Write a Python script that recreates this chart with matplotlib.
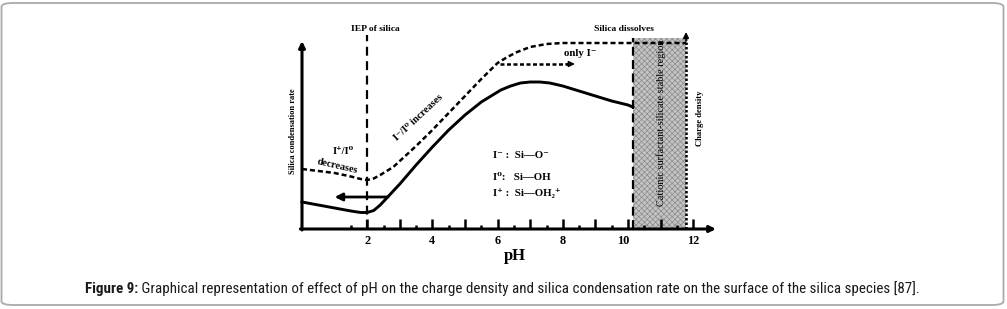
import matplotlib
matplotlib.use("Agg")
import matplotlib.pyplot as plt
from matplotlib import font_manager
from matplotlib.patches import FancyBboxPatch

# ---------------- data ----------------
ph_solid = [0, 0.5, 1, 1.5, 1.8, 2.0, 2.2, 2.4, 2.6, 2.8, 3, 3.5, 4, 4.5, 5, 5.5, 5.8, 6.1,
            6.4, 6.7, 7, 7.3, 7.6, 8, 8.5, 9, 9.5, 10, 10.15]
rate_solid = [27, 24, 21, 18, 16.5, 16.5, 18.5, 24, 31, 38, 45, 64, 82, 99, 114, 127, 133, 139,
              143, 146, 147, 147, 146, 143, 138, 133, 128, 124, 122]

ph_dashed = [0, 0.5, 1, 1.5, 1.8, 2.0, 2.2, 2.4, 2.6, 2.8, 3.2, 3.5, 4, 4.5, 5, 5.5, 6, 6.3,
             6.6, 7, 7.5, 8, 9, 10, 11, 11.78]
rate_dashed = [60, 58, 56, 52.5, 50, 49, 50.5, 54, 58, 62, 74, 83, 99, 116, 133, 150, 166, 172,
               177, 182, 185, 186, 186, 186, 186, 186]

tick_major = [2, 3, 4, 5, 6, 7, 8, 9, 10, 11, 12]
tick_minor = [1.5, 2.5, 3.5, 4.5, 5.5, 6.5, 7.5, 8.5, 9.5, 10.5, 11.5]
tick_label_pos = [2, 4, 6, 8, 10, 12]
tick_labels = ["2", "4", "6", "8", "10", "12"]

iep_ph = 2
region_ph = [10.15, 11.78]

# ---------------- figure ----------------
W, H = 1007, 309
fig = plt.figure(figsize=(W / 100, H / 100), dpi=100)
fig.patch.set_facecolor("white")
plt.rcParams["hatch.linewidth"] = 0.5

names = {f.name for f in font_manager.fontManager.ttflist}
serif = ["Liberation Serif", "DejaVu Serif"]
cap_font = "Liberation Sans"
for cand in ["Liberation Sans Narrow", "Arial Narrow", "Roboto Condensed", "Open Sans Condensed"]:
    if cand in names:
        cap_font = cand
        break

ax = fig.add_axes([302 / W, 80 / H, 13 * 32.6 / W, 200 / H])
ax.set_xlim(0, 13)
ax.set_ylim(0, 200)
ax.axis("off")

# shaded region
ax.fill_between(region_ph, 0, 191, facecolor="#c4c4c4", hatch="xxxxxx",
                edgecolor="#8a8a8a", lw=0, zorder=1)

# curves
ax.plot(ph_solid, rate_solid, color="black", lw=2.1, solid_joinstyle="round", zorder=3, clip_on=False)
ax.plot(ph_dashed, rate_dashed, color="black", lw=1.8, dashes=(2.0, 1.2), zorder=3, clip_on=False)

# vertical lines
ax.plot([iep_ph, iep_ph], [0, 194], color="black", lw=1.6, dashes=(4, 2.5), zorder=4, clip_on=False)
ax.plot([region_ph[0], region_ph[0]], [0, 191], color="black", lw=1.6, dashes=(4, 2), zorder=4, clip_on=False)
ax.plot([region_ph[1], region_ph[1]], [0, 190], color="black", lw=1.8, dashes=(1, 0.8), zorder=4, clip_on=False)
ax.annotate("", xy=(region_ph[1], 197), xytext=(region_ph[1], 188),
            arrowprops=dict(arrowstyle="-|>", lw=1.2, color="black", mutation_scale=8,
                            shrinkA=0, shrinkB=0), zorder=5)

# axes arrows
ax.annotate("", xy=(0, 188), xytext=(0, -1),
            arrowprops=dict(arrowstyle="-|>", lw=2.2, color="black", mutation_scale=9,
                            shrinkA=0, shrinkB=0), zorder=5)
ax.annotate("", xy=(12.7, 0), xytext=(-0.05, 0),
            arrowprops=dict(arrowstyle="-|>", lw=2.2, color="black", mutation_scale=9,
                            shrinkA=0, shrinkB=0), zorder=5)

# ticks
for t in tick_major:
    ax.plot([t, t], [0, 10], color="black", lw=1.8, solid_capstyle="butt", clip_on=False, zorder=4)
for t in tick_minor:
    ax.plot([t, t], [0, 4], color="black", lw=1.8, solid_capstyle="butt", clip_on=False, zorder=4)
for t, lab in zip(tick_label_pos, tick_labels):
    ax.text(t - (0.15 if t == 10 else 0), -12, lab, ha="center", va="center",
            fontsize=8.8, fontweight="bold", family=serif)

ax.text(6.53, -27, "pH", ha="center", va="center", fontsize=12, fontweight="bold", family=serif)

# left arrow (solid)
ax.annotate("", xy=(1.0, 32), xytext=(2.64, 32),
            arrowprops=dict(arrowstyle="-|>", lw=2.0, color="black", mutation_scale=11,
                            shrinkA=0, shrinkB=0), zorder=5)
# dashed arrow "only I-"
ax.plot([6.07, 8.2], [165, 165], color="black", lw=1.8, dashes=(1.6, 1.0), clip_on=False)
ax.annotate("", xy=(8.37, 165), xytext=(8.1, 165),
            arrowprops=dict(arrowstyle="-|>", lw=1.0, color="black", mutation_scale=9,
                            shrinkA=0, shrinkB=0), zorder=5)

# annotations
ax.text(2.25, 200, "IEP of silica", ha="center", va="center", fontsize=6.8, fontweight="bold", family=serif)
ax.text(9.87, 200, "Silica dissolves", ha="center", va="center", fontsize=6.8, fontweight="bold", family=serif)
ax.text(8.53, 176, "only I\u207b", ha="center", va="center", fontsize=7.8, fontweight="bold", family=serif)
ax.text(3.56, 111, "I\u207b/I\u2070 increases", ha="center", va="center", fontsize=7.4,
        fontweight="bold", family=serif, rotation=43, rotation_mode="anchor")
ax.text(1.26, 78, "I\u207a/I\u2070", ha="center", va="center", fontsize=7.6, fontweight="bold", family=serif)
ax.text(1.1, 63, "decreases", ha="center", va="center", fontsize=7.4, fontweight="bold",
        family=serif, rotation=-13, rotation_mode="anchor")

ax.text(5.85, 74, "I\u207b :  Si\u2014O\u207b", ha="left", va="center", fontsize=7.8, fontweight="bold", family=serif)
ax.text(5.85, 52, "I\u2070:   Si\u2014OH", ha="left", va="center", fontsize=7.8, fontweight="bold", family=serif)
ax.text(5.85, 36, "I\u207a :  Si\u2014OH\u2082\u207a", ha="left", va="center", fontsize=7.8, fontweight="bold", family=serif)

ax.text(-0.28, 98, "Silica condensation rate", ha="center", va="center", rotation=90,
        fontsize=6.0, fontweight="bold", family=serif)
ax.text(12.21, 111, "Charge density", ha="center", va="center", rotation=90,
        fontsize=6.2, fontweight="bold", family=serif)
ax.text(11.02, 106, "Cationic surfactant-silicate stable region", ha="center", va="center",
        rotation=90, fontsize=7.4, family=serif, zorder=6)

# border
fig.patches.append(FancyBboxPatch((1.5 / W, 4 / H), 1002 / W, 302 / H,
                                  boxstyle="round,pad=0,rounding_size=0.012",
                                  transform=fig.transFigure, facecolor="none",
                                  edgecolor="#aaaaaa", lw=1.3))

# caption
cap_y = 1 - 289 / H
t1 = fig.text(85 / W, cap_y, "Figure 9:", ha="left", va="center", fontsize=10,
              fontweight="bold", family=cap_font, color="#1a1a1a")
t2 = fig.text(0.5, cap_y,
              " Graphical representation of effect of pH on the charge density and silica condensation rate on the surface of the silica species [87].",
              ha="left", va="center", fontsize=10, family=cap_font, color="#1a1a1a")
target = 918 - 85
size = 10.0
for _ in range(4):
    t1.set_fontsize(size)
    t2.set_fontsize(size)
    fig.canvas.draw()
    r = fig.canvas.get_renderer()
    bb = t1.get_window_extent(r)
    t2.set_x(bb.x1 / W)
    fig.canvas.draw()
    bb2 = t2.get_window_extent(r)
    cur = bb2.x1 - bb.x0
    if cur <= 0:
        break
    size = size * target / cur

fig.savefig("out.png", dpi=100, facecolor="white")
